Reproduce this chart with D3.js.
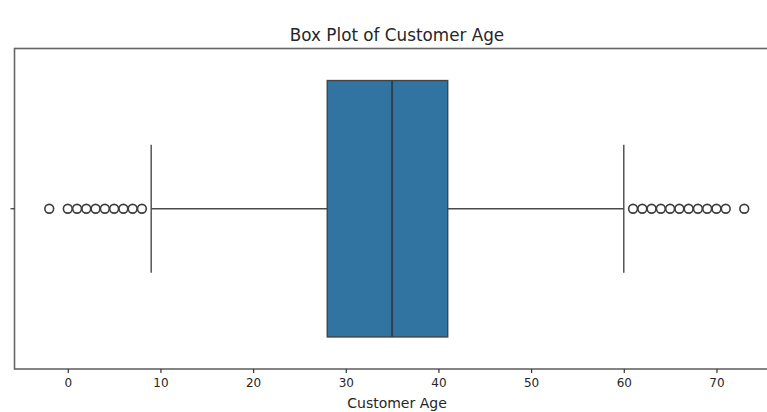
<!DOCTYPE html>
<html>
<head>
<meta charset="utf-8">
<script src="https://cdn.jsdelivr.net/npm/d3@7"></script>
<style>
  html, body { margin: 0; padding: 0; background: #fff; }
  svg { display: block; }
  text { font-family: "DejaVu Sans", sans-serif; fill: #262626; }
</style>
</head>
<body>
<svg id="chart" width="767" height="412"></svg>
<script>
// Summary statistics of customer age
const boxStats = [28, 35, 41];          // q1, median, q3
const whiskers = [9, 60];               // lower, upper whisker ends
const outliersLow = [-2, 0, 1, 2, 3, 4, 5, 6, 7, 8];
const outliersHigh = [61, 62, 63, 64, 65, 66, 67, 68, 69, 70, 71, 73];
const xTicks = [0, 10, 20, 30, 40, 50, 60, 70];
const categories = ["Customer Age"];

const svg = d3.select("#chart");
const margin = { left: 14.5, right: -12, top: 48.5, bottom: 43 };
const W = 767, H = 412;
const innerW = W - margin.left - margin.right;
const innerH = H - margin.top - margin.bottom;

const allVals = outliersLow.concat(outliersHigh, whiskers, boxStats);
const lo = d3.min(allVals), hi = d3.max(allVals);
const pad = (hi - lo) * 0.05;

const x = d3.scaleLinear().domain([lo - pad, hi + pad]).range([0, innerW]);
const y = d3.scaleBand().domain(categories).range([0, innerH]).paddingInner(0).paddingOuter(0);

const g = svg.append("g").attr("transform", `translate(${margin.left},${margin.top})`);

const cy = y(categories[0]) + y.bandwidth() / 2;
const boxH = y.bandwidth() * 0.8;
const lineColor = "#4a4a4a";

// whiskers
g.append("line").attr("x1", x(whiskers[0])).attr("x2", x(boxStats[0]))
  .attr("y1", cy).attr("y2", cy).attr("stroke", lineColor).attr("stroke-width", 1.4);
g.append("line").attr("x1", x(boxStats[2])).attr("x2", x(whiskers[1]))
  .attr("y1", cy).attr("y2", cy).attr("stroke", lineColor).attr("stroke-width", 1.4);
// caps
whiskers.forEach(w => {
  g.append("line").attr("x1", x(w)).attr("x2", x(w))
    .attr("y1", cy - boxH / 4).attr("y2", cy + boxH / 4)
    .attr("stroke", lineColor).attr("stroke-width", 1.4);
});

// box
g.append("rect")
  .attr("x", x(boxStats[0])).attr("y", cy - boxH / 2)
  .attr("width", x(boxStats[2]) - x(boxStats[0])).attr("height", boxH)
  .attr("fill", "#3274a1").attr("stroke", "#444").attr("stroke-width", 1.4);
// median
g.append("line").attr("x1", x(boxStats[1])).attr("x2", x(boxStats[1]))
  .attr("y1", cy - boxH / 2).attr("y2", cy + boxH / 2)
  .attr("stroke", "#34404c").attr("stroke-width", 2);

// outliers
g.selectAll("circle.out").data(outliersLow.concat(outliersHigh)).enter()
  .append("circle").attr("class", "out")
  .attr("cx", d => x(d)).attr("cy", cy).attr("r", 4.4)
  .attr("fill", "none").attr("stroke", "#3d3d3d").attr("stroke-width", 1.6);

// frame
g.append("rect").attr("x", 0).attr("y", 0).attr("width", innerW).attr("height", innerH)
  .attr("fill", "none").attr("stroke", "#666").attr("stroke-width", 1.6);

// x axis
const xAxis = d3.axisBottom(x).tickValues(xTicks).tickSize(4).tickPadding(5).tickFormat(d3.format("d"));
const ax = g.append("g").attr("transform", `translate(0,${innerH})`).call(xAxis);
ax.select(".domain").remove();
ax.selectAll(".tick line").attr("stroke", "#333").attr("stroke-width", 1.2);
ax.selectAll(".tick text").attr("font-size", 12).attr("fill", "#333");

// y axis tick (no label)
const yAxis = d3.axisLeft(y).tickSize(4).tickFormat("");
const ay = g.append("g").call(yAxis);
ay.select(".domain").remove();
ay.selectAll(".tick line").attr("stroke", "#333").attr("stroke-width", 1.2);

// labels
svg.append("text").attr("x", 397).attr("y", 408)
  .attr("text-anchor", "middle").attr("font-size", 14).text("Customer Age");
svg.append("text").attr("x", 397).attr("y", 41)
  .attr("text-anchor", "middle").attr("font-size", 16.8).text("Box Plot of Customer Age");
</script>
</body>
</html>
